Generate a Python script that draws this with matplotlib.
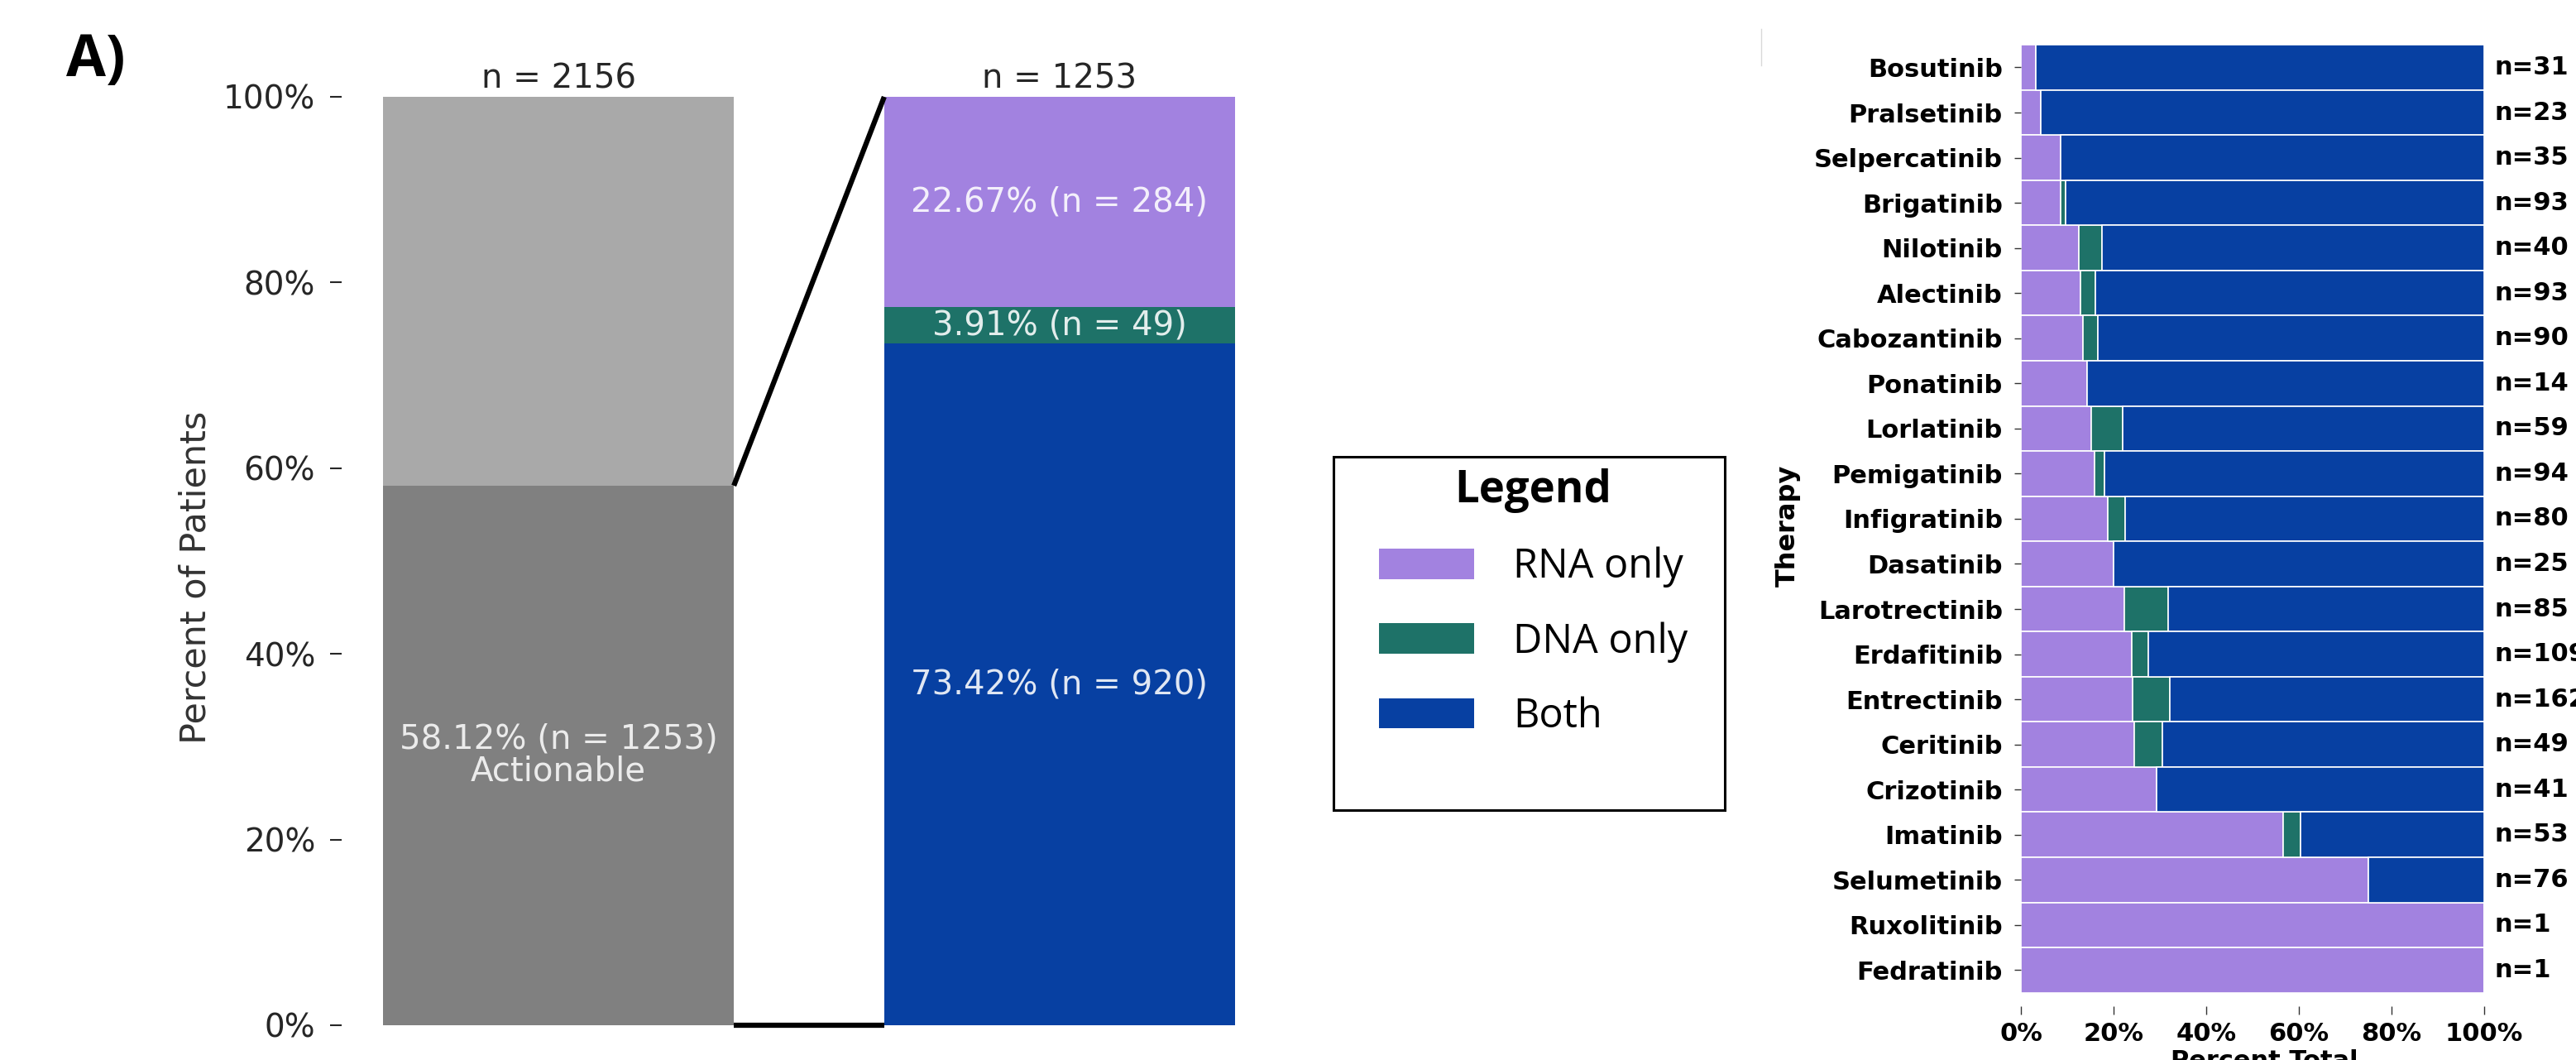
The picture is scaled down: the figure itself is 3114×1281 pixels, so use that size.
import matplotlib
matplotlib.use("Agg")
import matplotlib.pyplot as plt
import numpy as np
from matplotlib.patches import Patch, Rectangle
from matplotlib.lines import Line2D

plt.rcParams["font.family"] = ["DejaVu Sans"]

# ---- panel A, left: actionable share and its assay breakdown ----
cohort_total = 2156
actionable_n = 1253
breakdown_labels = ["Both", "DNA only", "RNA only"]
breakdown_counts = [920, 49, 284]

# ---- panel A, right: per-therapy breakdown ----
therapies = [
    "Bosutinib", "Pralsetinib", "Selpercatinib", "Brigatinib", "Nilotinib",
    "Alectinib", "Cabozantinib", "Ponatinib", "Lorlatinib", "Pemigatinib",
    "Infigratinib", "Dasatinib", "Larotrectinib", "Erdafitinib", "Entrectinib",
    "Ceritinib", "Crizotinib", "Imatinib", "Selumetinib", "Ruxolitinib",
    "Fedratinib",
]
rna_only = [1, 1, 3, 8, 5, 12, 12, 2, 9, 15, 15, 5, 19, 26, 39, 12, 12, 30, 57, 1, 1]
dna_only = [0, 0, 0, 1, 2, 3, 3, 0, 4, 2, 3, 0, 8, 4, 13, 3, 0, 2, 0, 0, 0]
both = [30, 22, 32, 84, 33, 78, 75, 12, 46, 77, 62, 20, 58, 79, 110, 34, 29, 21, 19, 0, 0]

pct_ticks = [0, 20, 40, 60, 80, 100]

C_RNA = "#a282e0"
C_DNA = "#1e7268"
C_BOTH = "#0740a2"
C_ACT = "#808080"
C_NOT = "#a9a9a9"
TXT = "#262626"

W, H, DPI = 3114, 1281, 100
fig = plt.figure(figsize=(W / DPI, H / DPI), dpi=DPI)


def fig_box(x0, y0, x1, y1):
    """Pixel box (top-left origin) -> figure fraction rect."""
    return [x0 / W, 1 - y1 / H, (x1 - x0) / W, (y1 - y0) / H]


# ================= left stacked bars =================
ax = fig.add_axes(fig_box(413, 117, 1543, 1239))
bw = 0.7
act_pct = actionable_n / cohort_total * 100
ax.bar(0, act_pct, width=bw, color=C_ACT)
ax.bar(0, 100 - act_pct, bottom=act_pct, width=bw, color=C_NOT)

seg_colors = [C_BOTH, C_DNA, C_RNA]
bottom = 0
for cnt, col in zip(breakdown_counts, seg_colors):
    p = cnt / actionable_n * 100
    ax.bar(1, p, bottom=bottom, width=bw, color=col)
    ax.text(1, bottom + p / 2, f"{p:.2f}% (n = {cnt})", ha="center", va="center",
            fontsize=29, color="white", alpha=0.88)
    bottom += p

ax.text(0, act_pct / 2, f"{act_pct:.2f}% (n = {actionable_n})\nActionable",
        ha="center", va="center", fontsize=29, color="white", alpha=0.85,
        linespacing=0.95)
ax.annotate(f"n = {cohort_total}", (0, 100), xytext=(0, 1), textcoords="offset points",
            ha="center", va="bottom", fontsize=29, color=TXT)
ax.annotate(f"n = {actionable_n}", (1, 100), xytext=(0, 1), textcoords="offset points",
            ha="center", va="bottom", fontsize=29, color=TXT)

# zoom connectors between the two bars
ax.plot([bw / 2, 1 - bw / 2], [act_pct, 100], color="black", lw=4.5,
        solid_capstyle="butt", clip_on=False)
ax.plot([bw / 2, 1 - bw / 2], [0, 0], color="black", lw=4.5,
        solid_capstyle="butt", clip_on=False)

ax.set_xlim(-0.4326, 1.4326)
ax.set_ylim(0, 100)
ax.set_xticks([])
ax.set_yticks(pct_ticks, [f"{t}%" for t in pct_ticks])
ax.tick_params(axis="y", length=10, width=1.5, pad=13, labelsize=28,
               color=TXT, labelcolor=TXT)
for s in ax.spines.values():
    s.set_visible(False)
ax.set_ylabel("Percent of Patients", fontsize=31, color="#333333")
ax.yaxis.set_label_coords(-0.138, 0.482)

fig.text(80 / W, 1 - 92 / H, "A)", fontsize=50, fontweight="bold",
         family="Open Sans", ha="left", va="baseline")

# ================= legend =================
handles = [Patch(facecolor=c) for c in [C_RNA, C_DNA, C_BOTH]]
leg = fig.legend(handles, ["RNA only", "DNA only", "Both"], loc="upper left",
                 bbox_to_anchor=(1667 / W, 1 - 566 / H), borderaxespad=0,
                 borderpad=0, frameon=False, title="Legend",
                 prop={"family": "Open Sans", "size": 35},
                 title_fontproperties={"family": "Open Sans", "size": 38,
                                       "weight": "bold"},
                 handlelength=2.36, handleheight=0.78, handletextpad=0.97,
                 labelspacing=0.84)
fig.patches.append(Rectangle((1612 / W, 1 - 979 / H), 473 / W, 427 / H,
                             transform=fig.transFigure, fill=False,
                             edgecolor="black", lw=2.2))

# ================= right horizontal stacked bars =================
rax = fig.add_axes(fig_box(2443, 54.2, 3003, 1216))
rna = np.array(rna_only, dtype=float)
dna = np.array(dna_only, dtype=float)
bth = np.array(both, dtype=float)
n_tot = rna + dna + bth
y = np.arange(len(therapies))
r_p = rna / n_tot * 100
d_p = dna / n_tot * 100
b_p = bth / n_tot * 100
kw = dict(height=1.0, edgecolor="white", linewidth=1.2)
rax.barh(y, r_p, color=C_RNA, **kw)
rax.barh(y, d_p, left=r_p, color=C_DNA, **kw)
rax.barh(y, b_p, left=r_p + d_p, color=C_BOTH, **kw)
for yi, n in zip(y, n_tot):
    rax.annotate(f"n={int(n)}", (100, yi), xytext=(9, 0), textcoords="offset points",
                 ha="left", va="center", fontsize=22, fontweight="bold",
                 annotation_clip=False)

rax.set_xlim(0, 100)
rax.set_ylim(20.8, -0.5)
rax.set_yticks(y, therapies, fontweight="bold", fontsize=22)
rax.set_xticks(pct_ticks, [f"{t}%" for t in pct_ticks], fontweight="bold", fontsize=22)
rax.tick_params(axis="y", length=6, width=1, pad=10, color="#333333")
rax.tick_params(axis="x", length=7, width=1, pad=7, color="#333333")
for s in rax.spines.values():
    s.set_visible(False)
rax.set_ylabel("Therapy", fontsize=23, fontweight="bold")
rax.yaxis.set_label_coords(-0.475, 0.5)
rax.set_xlabel("Percent Total", fontsize=22, fontweight="bold", va="top")
rax.xaxis.set_label_coords(0.525, -0.045)

fig.add_artist(Line2D([2129 / W, 2129 / W], [1 - 35 / H, 1 - 79 / H],
                      transform=fig.transFigure, color="#d9d9d9", lw=1))

fig.savefig("out.png", dpi=DPI)
